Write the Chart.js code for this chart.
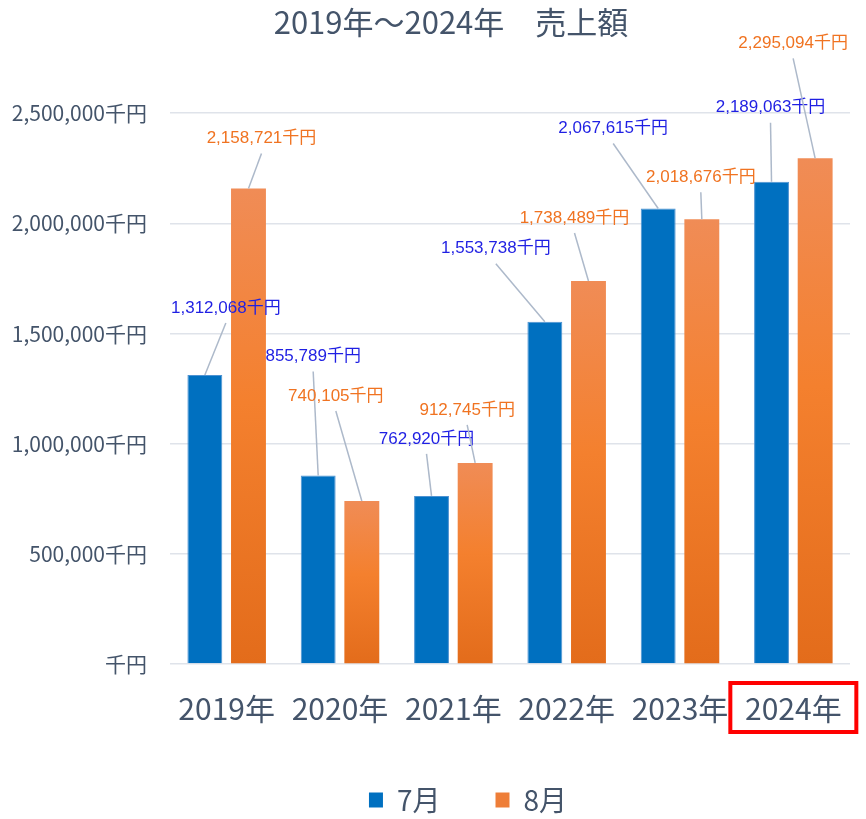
<!DOCTYPE html>
<html lang="ja">
<head>
  <meta charset="UTF-8" />
  <title>2019年～2024年 売上額</title>
  <script src="https://cdn.jsdelivr.net/npm/chart.js"></script>
  <style>
    body {
      margin: 0;
      background: #ffffff;
    }
    .chart-container {
      width: 866px;
      height: 819px;
    }
  </style>
</head>
<body>
  <div class="chart-container">
    <canvas id="salesChart"></canvas>
  </div>

  <script>
    const years = ["2019年", "2020年", "2021年", "2022年", "2023年", "2024年"];
    const julySales = [1312068, 855789, 762920, 1553738, 2067615, 2189063];
    const augustSales = [2158721, 740105, 912745, 1738489, 2018676, 2295094];
    const yTicks = [0, 500000, 1000000, 1500000, 2000000, 2500000];

    // where each value label sits, relative to the top of its bar
    const julyLabelOffsets = [[21, -67], [-5, -119], [-5, -57], [-49, -73], [-45, -80], [-1, -74]];
    const augustLabelOffsets = [[13, -50], [-26, -105], [-8, -53], [-14, -63], [-1, -42], [-22, -115]];

    const textColor = "#44546A";
    const jpFont = "'Noto Sans CJK JP', 'Noto Sans', sans-serif";

    const fmt = v => v.toLocaleString("en-US") + "千円";

    function orangeFill(context) {
      const chart = context.chart;
      if (!chart.chartArea || context.type !== "data") return "#EE7E38";
      const y = chart.scales.y;
      const top = y.getPixelForValue(context.raw);
      const base = y.getPixelForValue(0);
      const g = chart.ctx.createLinearGradient(0, top, 0, base);
      g.addColorStop(0, "#F08C56");
      g.addColorStop(0.45, "#F4802E");
      g.addColorStop(1, "#E36C1B");
      return g;
    }

    // value labels with leader lines, red box round the last year
    const extrasPlugin = {
      id: "extras",
      afterLayout(chart) {
        if (chart.titleBlock) {
          chart.titleBlock.left += 21;
          chart.titleBlock.right += 21;
        }
        if (chart.legend) {
          chart.legend.left += 38;
          chart.legend.right += 38;
          chart.legend.top += 5;
          chart.legend.bottom += 5;
        }
      },
      afterDatasetsDraw(chart) {
        const ctx = chart.ctx;
        const sets = [
          { meta: chart.getDatasetMeta(0), values: julySales, offsets: julyLabelOffsets, color: "#1F1FE3" },
          { meta: chart.getDatasetMeta(1), values: augustSales, offsets: augustLabelOffsets, color: "#F07321" }
        ];
        ctx.save();
        ctx.font = "17px 'Liberation Sans', 'Noto Sans CJK JP', sans-serif";
        ctx.textAlign = "center";
        ctx.textBaseline = "middle";
        sets.forEach(s => {
          s.meta.data.forEach((bar, i) => {
            const lx = bar.x + s.offsets[i][0];
            const ly = bar.y + s.offsets[i][1];
            ctx.strokeStyle = "#ADB9CA";
            ctx.lineWidth = 1.5;
            ctx.beginPath();
            ctx.moveTo(lx, ly + 15);
            ctx.lineTo(bar.x, bar.y);
            ctx.stroke();
            ctx.fillStyle = s.color;
            ctx.fillText(fmt(s.values[i]), lx, ly);
          });
        });
        const x = chart.scales.x.getPixelForValue(years.length - 1);
        const bottom = chart.chartArea.bottom;
        ctx.strokeStyle = "#FF0000";
        ctx.lineWidth = 4;
        ctx.strokeRect(x - 63, bottom + 19, 126, 49);
        ctx.restore();
      }
    };

    new Chart(document.getElementById("salesChart"), {
      type: "bar",
      data: {
        labels: years,
        datasets: [
          {
            label: "7月",
            data: julySales,
            backgroundColor: "#0070C0",
            borderColor: "#4D92D2",
            borderWidth: 1,
            categoryPercentage: 0.77,
            barPercentage: 0.8
          },
          {
            label: "8月",
            data: augustSales,
            backgroundColor: orangeFill,
            borderWidth: 0,
            categoryPercentage: 0.77,
            barPercentage: 0.8
          }
        ]
      },
      options: {
        responsive: true,
        maintainAspectRatio: false,
        animation: false,
        layout: {
          padding: { left: 10, right: 16, top: 0, bottom: 0 }
        },
        plugins: {
          title: {
            display: true,
            text: "2019年～2024年　売上額",
            color: textColor,
            font: { family: jpFont, size: 31, weight: "normal" },
            padding: { top: 4, bottom: 72 }
          },
          legend: {
            position: "bottom",
            labels: {
              color: textColor,
              font: { family: jpFont, size: 28 },
              boxWidth: 14,
              boxHeight: 15,
              padding: 55,
              generateLabels: chart => chart.data.datasets.map((d, i) => ({
                text: d.label,
                fillStyle: i === 0 ? "#0070C0" : "#EE7E38",
                strokeStyle: "transparent",
                lineWidth: 0,
                fontColor: textColor,
                datasetIndex: i
              }))
            }
          },
          tooltip: { enabled: false }
        },
        scales: {
          x: {
            grid: { display: false },
            border: { display: false },
            ticks: {
              color: textColor,
              font: { family: jpFont, size: 30 },
              padding: 19
            },
            afterFit: axis => { axis.height -= 20; }
          },
          y: {
            min: 0,
            max: 2500000,
            afterBuildTicks: axis => { axis.ticks = yTicks.map(v => ({ value: v })); },
            afterFit: axis => { axis.width = 160; },
            grid: { color: "#DFE3EA", lineWidth: 1.5, drawTicks: false },
            border: { display: false },
            ticks: {
              color: textColor,
              font: { family: jpFont, size: 21 },
              padding: 23,
              callback: v => v === 0 ? "千円" : fmt(v)
            }
          }
        }
      },
      plugins: [extrasPlugin]
    });
  </script>
</body>
</html>
